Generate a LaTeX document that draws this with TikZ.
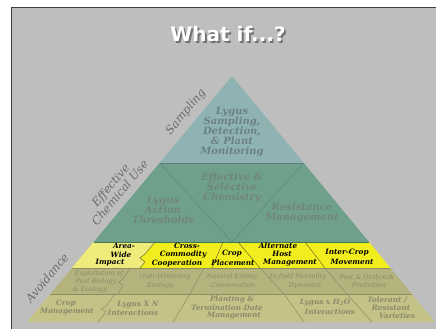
\documentclass[tikz,border=0pt]{standalone}
\usepackage{fontspec}
\setmainfont{DejaVu Serif}
\newfontfamily\titlefont{DejaVu Sans}
\definecolor{bg}{HTML}{BEBEBE}
\definecolor{samp}{HTML}{8FB2B3}
\definecolor{chem}{HTML}{6FA08B}
\definecolor{yel}{HTML}{F2EE1E}
\definecolor{yellt}{HTML}{EFEC7C}
\definecolor{mid}{HTML}{B4B27D}
\definecolor{low}{HTML}{C4C287}
\definecolor{samptext}{HTML}{6B8184}
\definecolor{chemtext}{HTML}{6F857D}
\definecolor{bandtext}{HTML}{8C8A69}
\definecolor{sidetext}{HTML}{6C6C6C}
\definecolor{gline}{HTML}{5E8A78}
\definecolor{yline}{HTML}{6E6C1E}
\definecolor{bline}{HTML}{8F8C62}
\definecolor{dgreen}{HTML}{3E7A4E}
\newcommand\fsz[2]{\fontsize{#1}{#2}\selectfont}
\begin{document}
\begin{tikzpicture}[x=1pt,y=-1pt,
  big/.style={inner sep=0pt, align=center, font=\fsz{10}{10}\bfseries\itshape},
  sm/.style={inner sep=0pt, font=\fsz{7.3}{8.5}\bfseries\itshape},
  tiny/.style={inner sep=0pt, font=\fsz{6.5}{8.5}\itshape, text=bandtext},
  side/.style={inner sep=0pt, align=center, rotate=50.2, text=sidetext, font=\fsz{11.5}{12}\itshape},
  divider/.style={line width=0.5pt}]
\useasboundingbox (0,0) rectangle (437,330);
\fill[white] (0,0) rectangle (437,330);
\fill[bg] (11,7) rectangle (436,329);
\draw[black!75, line width=1.2pt] (11.6,329) -- (11.6,7.6) -- (436,7.6);
% title with shadow
\node[font=\titlefont\fsz{20}{20}\bfseries, text=white,
  preaction={}] (title) at (228,35) {\makebox[0pt][l]{\hspace*{1.8pt}\raisebox{-1.8pt}{\color{black!55}What if...?}}What if...?};
% pyramid bands
\fill[samp] (232,76) -- (303.8,163) -- (159.5,163) -- cycle;
\fill[chem] (159.5,163) -- (303.8,163) -- (369,242) -- (93.7,242) -- cycle;
\fill[yel] (93.7,242) -- (369,242) -- (390.4,268) -- (72,268) -- cycle;
\fill[yellt] (93.7,242) -- (155,242) -- (145,254) -- (140,258) -- (145,262) -- (140,268) -- (72,268) -- cycle;
\fill[mid] (72,268) -- (390.4,268) -- (411.9,294) -- (50.3,294) -- cycle;
\fill[low] (50.3,294) -- (411.9,294) -- (435,322) -- (27,322) -- cycle;
% dividers
\draw[divider, color=samp!70!black] (159.5,163) -- (303.8,163);
\draw[divider, gline] (159.5,163) -- (232,242) -- (303.8,163);
\draw[dgreen, line width=0.8pt] (93.7,242) -- (369,242);
\draw[divider, yline] (155,242) -- (145,254) -- (140,258) -- (145,262) -- (140,268);
\draw[divider, yline] (223,242) -- (212,268);
\draw[divider, yline] (238,242) -- (260,268);
\draw[divider, yline] (305,242) -- (325,268);
\draw[divider, bline] (72,268) -- (390.4,268);
\draw[divider, bline] (50.3,294) -- (411.9,294);
\draw[divider, bline] (130,268) -- (123,279) -- (118.5,282) -- (123,285) -- (118,294);
\draw[divider, bline] (204,268) -- (190,294);
\draw[divider, bline] (260,268) -- (284,294);
\draw[divider, bline] (325,268) -- (347,294);
\draw[divider, bline] (115,294) -- (106,306) -- (101,309) -- (106,312) -- (98,322);
\draw[divider, bline] (190,294) -- (173,322);
\draw[divider, bline] (284,294) -- (304,322);
\draw[divider, bline] (347,294) -- (372,322);
% side labels
\node[side] (lsamp) at (186,112) {Sampling};
\node[side] (lchem) at (115,189) {Effective\\Chemical Use};
\node[side] (lavoid) at (47,278) {Avoidance};
% sampling & chemistry texts
\node[big, text=samptext] (tsamp) at (232,132) {Lygus\\Sampling,\\Detection,\\\& Plant\\Monitoring};
\node[big, text=chemtext] (tsel) at (232,188) {Effective \&\\Selective\\Chemistry};
\node[big, text=chemtext] (tthr) at (163,209.5) {Lygus\\Action\\Thresholds};
\node[big, text=chemtext] (tres) at (302,213) {Resistance\\Management};
% yellow band
\node[sm] (aw1) at (124,246) {Area-};
\node[sm] (aw2) at (121,254.5) {Wide};
\node[sm] (aw3) at (110,263) {Impact};
\node[sm] (cc1) at (187,246) {Cross-};
\node[sm] (cc2) at (183,254.5) {Commodity};
\node[sm] (cc3) at (177,263) {Cooperation};
\node[sm] (cp1) at (232,254) {Crop};
\node[sm] (cp2) at (233,262.5) {Placement};
\node[sm] (ah1) at (278,245.5) {Alternate};
\node[sm] (ah2) at (282,254) {Host};
\node[sm] (ah3) at (290,263) {Management};
\node[sm] (ic1) at (347,253) {Inter-Crop};
\node[sm] (ic2) at (352,261.5) {Movement};
% middle band
\node[tiny] (ex1) at (99,273.5) {Exploitation of};
\node[tiny] (ex2) at (96,281.5) {Pest Biology};
\node[tiny] (ex3) at (90,289.5) {\& Ecology};
\node[tiny] (ow1) at (165,277) {Over-Wintering};
\node[tiny] (ow2) at (160,285.5) {Ecology};
\node[tiny] (ne1) at (232,277) {Natural Enemy};
\node[tiny] (ne2) at (233,285.5) {Conservation};
\node[tiny] (im1) at (298,277) {In-field Mortality};
\node[tiny] (im2) at (305,285.5) {Dynamics};
\node[tiny] (po1) at (367,277) {Pest \& Outbreak};
\node[tiny] (po2) at (369,285.5) {Prediction};
% bottom band
\node[sm, text=bandtext] (cm1) at (66,304) {Crop};
\node[sm, text=bandtext] (cm2) at (67,312) {Management};
\node[sm, text=bandtext] (xn1) at (138,304.5) {Lygus X N};
\node[sm, text=bandtext] (xn2) at (133,312.5) {Interactions};
\node[sm, text=bandtext] (pt1) at (232,300) {Planting \&};
\node[sm, text=bandtext] (pt2) at (227,308) {Termination Date};
\node[sm, text=bandtext] (pt3) at (234,316) {Management};
\node[sm, text=bandtext] (hw1) at (325,302.5) {Lygus x H\textsubscript{2}O};
\node[sm, text=bandtext] (hw2) at (330,312) {Interactions};
\node[sm, text=bandtext] (tr1) at (387,300) {Tolerant /};
\node[sm, text=bandtext] (tr2) at (391,307.5) {Resistant};
\node[sm, text=bandtext] (tr3) at (397,316) {Varieties};
\end{tikzpicture}
\end{document}
